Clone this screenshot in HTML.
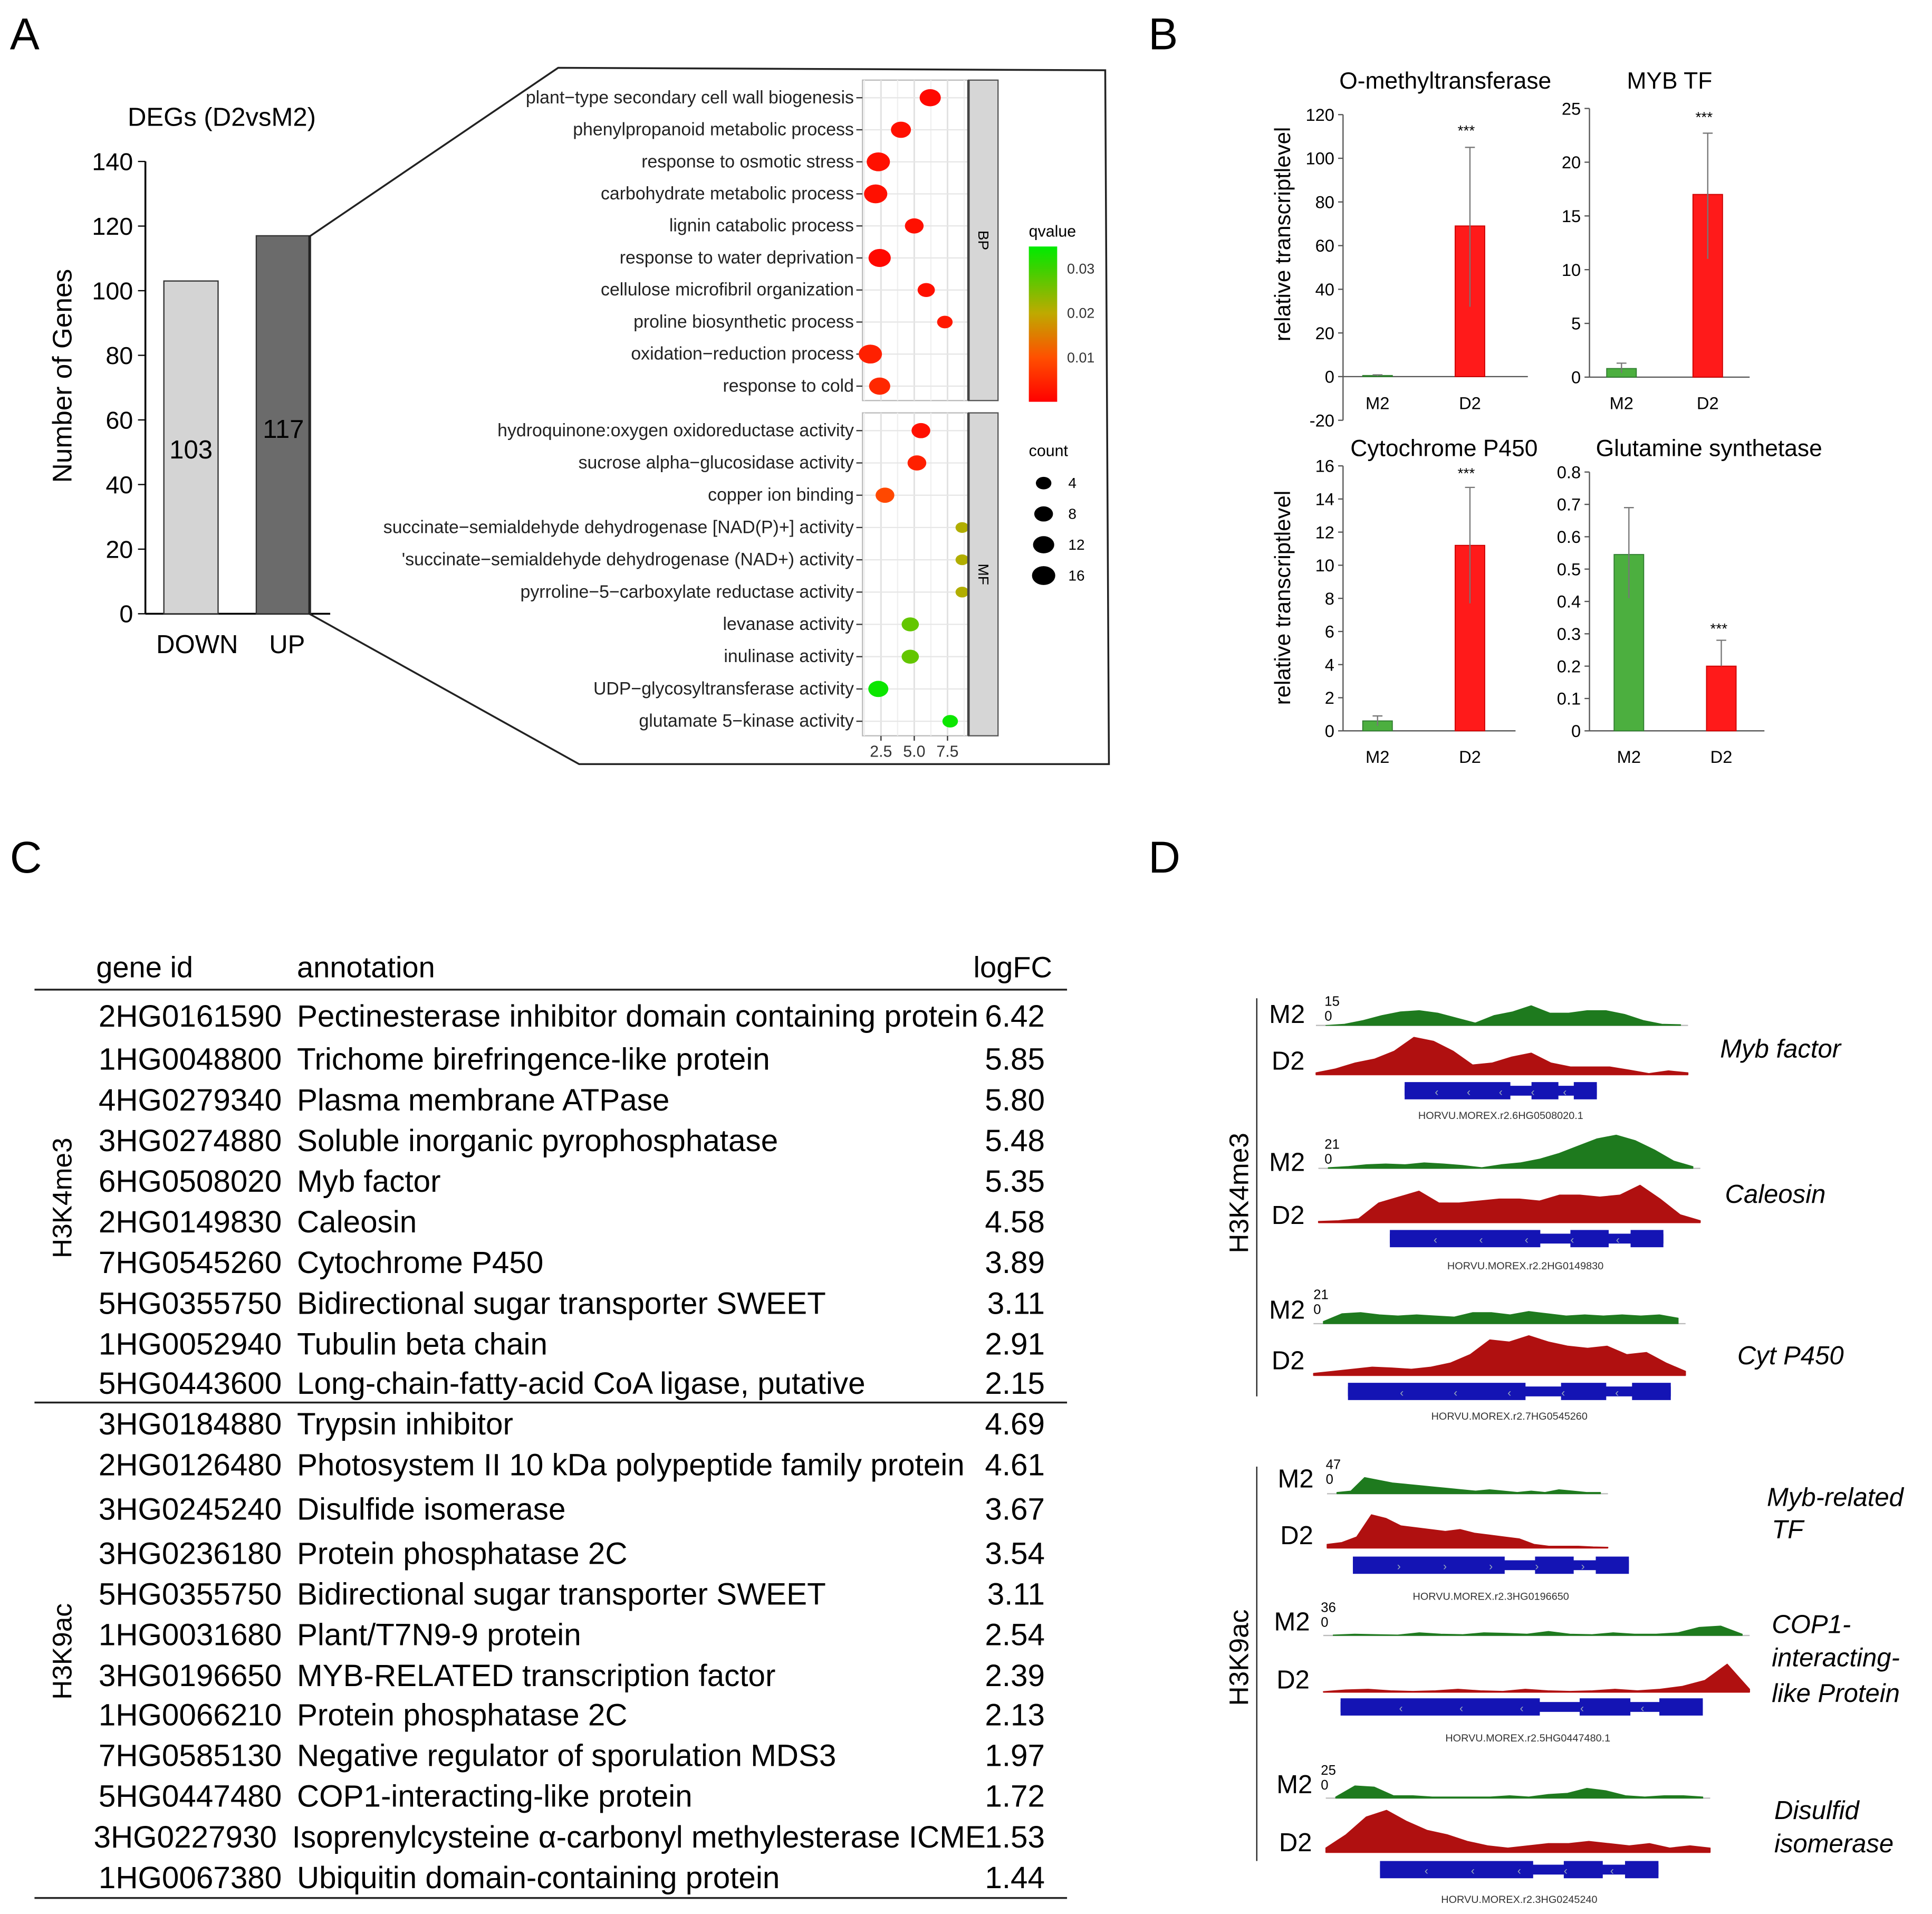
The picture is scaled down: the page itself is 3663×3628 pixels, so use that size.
<!DOCTYPE html>
<html><head><meta charset="utf-8"><style>
html,body{margin:0;padding:0;background:#fff;}
svg{display:block;font-family:"Liberation Sans",Arial,sans-serif;}
</style></head><body>
<svg id="fig" xmlns="http://www.w3.org/2000/svg" width="3663" height="3628" viewBox="0 0 1568 1553">
<rect width="1568" height="1553" fill="#fff"/>
<g font-size="36">
<text x="8" y="40">A</text>
<text x="932" y="40">B</text>
<text x="8" y="708">C</text>
<text x="932" y="708">D</text>
</g>
<g id="pa"></g>
<polygon points="251,192 453,55 897,57 900,620 470,620 251,498" fill="none" stroke="#222" stroke-width="1.5"/>
<g id="dot"></g>
<g id="pb"></g>
<g id="pc"></g>
<g id="pd"></g>
</svg>
<script>
// ---------- Panel A data ----------
const degCats = ["DOWN","UP"];
const degVals = [103,117];
const degTicks = [0,20,40,60,80,100,120,140];
// ---------- Dot plot data ----------
const bpTerms = ["plant−type secondary cell wall biogenesis","phenylpropanoid metabolic process","response to osmotic stress","carbohydrate metabolic process","lignin catabolic process","response to water deprivation","cellulose microfibril organization","proline biosynthetic process","oxidation−reduction process","response to cold"];
const bpX = [6.2,4.0,2.3,2.1,5.0,2.4,5.9,7.3,1.7,2.4];
const bpCount = [12,10,16,16,8,14,6,4,16,12];
const bpQ = [0.001,0.002,0.002,0.002,0.002,0.001,0.002,0.003,0.004,0.005];
const mfTerms = ["hydroquinone:oxygen oxidoreductase activity","sucrose alpha−glucosidase activity","copper ion binding","succinate−semialdehyde dehydrogenase [NAD(P)+] activity","'succinate−semialdehyde dehydrogenase (NAD+) activity","pyrroline−5−carboxylate reductase activity","levanase activity","inulinase activity","UDP−glycosyltransferase activity","glutamate 5−kinase activity"];
const mfX = [5.5,5.2,2.8,8.6,8.6,8.6,4.7,4.7,2.3,7.7];
const mfCount = [8,8,8,2,2,2,6,6,10,4];
const mfQ = [0.002,0.004,0.009,0.021,0.021,0.021,0.027,0.027,0.034,0.034];
const dotXTicks = [2.5,5.0,7.5];
const qTicks = [0.01,0.02,0.03];
const countLegend = [4,8,12,16];
// ---------- Panel B data ----------
const qTitles = ["O-methyltransferase","MYB TF","Cytochrome P450","Glutamine synthetase"];
const qGroups = ["M2","D2"];
const qMeans = [[0.5,69],[0.8,17],[0.6,11.2],[0.545,0.2]];
const qErrHi = [[0.8,105],[1.3,22.7],[0.9,14.7],[0.69,0.28]];
const qErrLo = [[0.3,32],[0.4,11],[0.3,7.7],[0.41,0.2]];
const qTickSets = [[-20,0,20,40,60,80,100,120],[0,5,10,15,20,25],[0,2,4,6,8,10,12,14,16],[0,0.1,0.2,0.3,0.4,0.5,0.6,0.7,0.8]];
const qRanges = [[-20,120],[0,25],[0,16],[0,0.8]];
// ---------- Panel C data ----------
const k4Ids = ["2HG0161590","1HG0048800","4HG0279340","3HG0274880","6HG0508020","2HG0149830","7HG0545260","5HG0355750","1HG0052940","5HG0443600"];
const k4Ann = ["Pectinesterase inhibitor domain containing protein","Trichome birefringence-like protein","Plasma membrane ATPase","Soluble inorganic pyrophosphatase","Myb factor","Caleosin","Cytochrome P450","Bidirectional sugar transporter SWEET","Tubulin beta chain","Long-chain-fatty-acid CoA ligase, putative"];
const k4FC = ["6.42","5.85","5.80","5.48","5.35","4.58","3.89","3.11","2.91","2.15"];
const k9Ids = ["3HG0184880","2HG0126480","3HG0245240","3HG0236180","5HG0355750","1HG0031680","3HG0196650","1HG0066210","7HG0585130","5HG0447480","3HG0227930","1HG0067380"];
const k9Ann = ["Trypsin inhibitor","Photosystem II 10 kDa polypeptide family protein","Disulfide isomerase","Protein phosphatase 2C","Bidirectional sugar transporter SWEET","Plant/T7N9-9 protein","MYB-RELATED transcription factor","Protein phosphatase 2C","Negative regulator of sporulation MDS3","COP1-interacting-like protein","Isoprenylcysteine α-carbonyl methylesterase ICME","Ubiquitin domain-containing protein"];
const k9FC = ["4.69","4.61","3.67","3.54","3.11","2.54","2.39","2.13","1.97","1.72","1.53","1.44"];
// ---------- Panel D data ----------
const trackNames = ["Myb factor","Caleosin","Cyt P450","Myb-related TF","COP1-interacting-like Protein","Disulfid isomerase"];
const trackMax = ["15","21","21","47","36","25"];
const geneIds = ["HORVU.MOREX.r2.6HG0508020.1","HORVU.MOREX.r2.2HG0149830","HORVU.MOREX.r2.7HG0545260","HORVU.MOREX.r2.3HG0196650","HORVU.MOREX.r2.5HG0447480.1","HORVU.MOREX.r2.3HG0245240"];
const m2Cov = [
[0,0.05,0.2,0.4,0.55,0.6,0.5,0.3,0.1,0.4,0.55,0.8,0.5,0.5,0.6,0.6,0.45,0.2,0.05,0.03],
[0.02,0.05,0.1,0.12,0.1,0.15,0.12,0.08,0.02,0.1,0.15,0.25,0.4,0.6,0.8,0.9,0.75,0.5,0.2,0.05],
[0.1,0.45,0.5,0.4,0.35,0.4,0.35,0.3,0.5,0.5,0.4,0.55,0.45,0.35,0.4,0.35,0.4,0.35,0.4,0.25],
[0.05,0.1,0.6,0.5,0.4,0.35,0.3,0.25,0.2,0.15,0.1,0.15,0.1,0.05,0.1,0.05,0.15,0.1,0.05,0.05],
[0.02,0.05,0.03,0.02,0.1,0.05,0.03,0.1,0.08,0.05,0.15,0.05,0.03,0.1,0.05,0.05,0.1,0.3,0.35,0.05],
[0.05,0.5,0.45,0.1,0.1,0.05,0.05,0.05,0.05,0.1,0.05,0.15,0.2,0.4,0.3,0.1,0.05,0.1,0.1,0.05]];
const d2Cov = [
[0.05,0.15,0.3,0.4,0.6,0.95,0.85,0.6,0.25,0.3,0.45,0.55,0.3,0.2,0.2,0.2,0.12,0.03,0.1,0.05],
[0.03,0.05,0.1,0.5,0.65,0.8,0.5,0.5,0.55,0.6,0.6,0.55,0.7,0.7,0.65,0.7,0.95,0.6,0.2,0.05],
[0.05,0.1,0.15,0.2,0.18,0.15,0.2,0.3,0.5,0.85,0.8,0.95,0.8,0.7,0.65,0.7,0.5,0.55,0.3,0.1],
[0.1,0.15,0.3,0.9,0.8,0.6,0.55,0.5,0.45,0.5,0.4,0.35,0.3,0.25,0.1,0.05,0.05,0.05,0.03,0.02],
[0.02,0.08,0.1,0.05,0.03,0.05,0.1,0.05,0.03,0.1,0.05,0.03,0.05,0.1,0.05,0.1,0.2,0.4,0.95,0.1],
[0.1,0.4,0.8,0.95,0.7,0.5,0.4,0.25,0.15,0.1,0.15,0.2,0.2,0.25,0.2,0.15,0.2,0.1,0.15,0.1]];

const NS="http://www.w3.org/2000/svg";
function mk(tag,attrs,parent,txt){const e=document.createElementNS(NS,tag);for(const k in attrs)e.setAttribute(k,attrs[k]);if(txt!==undefined)e.textContent=txt;parent.appendChild(e);return e;}

// ===== Panel A =====
(function(){
const g=document.getElementById('pa');
const y=v=>498-v*(367/140);
let e;
e=mk('text',{x:180,y:102,'font-size':21,'text-anchor':'middle'},g,'DEGs (D2vsM2)');


e=mk('text',{x:0,y:0,'font-size':22,'text-anchor':'middle',transform:'translate(58,305) rotate(-90)'},g,'Number of Genes');


mk('line',{x1:118,y1:y(140),x2:118,y2:498,stroke:'#000','stroke-width':1.5},g);
mk('line',{x1:118,y1:498,x2:268,y2:498,stroke:'#000','stroke-width':1.5},g);
degTicks.forEach(t=>{
 mk('line',{x1:112,y1:y(t),x2:118,y2:y(t),stroke:'#000'},g);
 e=mk('text',{x:108,y:y(t)+7,'font-size':20,'text-anchor':'end'},g,String(t));
 
 
});
const cx=[155,230],fills=['#d4d4d4','#6b6b6b'];
degVals.forEach((v,i)=>{
 e=mk('rect',{x:cx[i]-22,y:y(v),width:44,height:498-y(v),fill:fills[i],stroke:'#333'},g);
 
 
 e=mk('text',{x:cx[i],y:y(v)+(i?164:144),'font-size':21,'text-anchor':'middle'},g,String(v));
 
 
 e=mk('text',{x:cx[i]+(i?3:5),y:530,'font-size':21,'text-anchor':'middle'},g,degCats[i]);
 
 
});
})();

// ===== Dot plot =====
(function(){
const g=document.getElementById('dot');
const xs=v=>715+(v-2.5)*10.8;
const rad=c=>3+Math.sqrt(c)*1.5;
const stops=[[0,[255,0,0]],[0.01,[255,80,0]],[0.02,[190,170,0]],[0.03,[60,210,0]],[0.035,[0,235,0]]];
function qcol(q){for(let i=1;i<stops.length;i++){if(q<=stops[i][0]){const a=stops[i-1],b=stops[i],t=(q-a[0])/(b[0]-a[0]);const c=a[1].map((v,k)=>Math.round(v+(b[1][k]-v)*t));return 'rgb('+c+')';}}return 'rgb(0,235,0)';}
let e;
const panels=[{terms:bpTerms,xv:bpX,cnt:bpCount,q:bpQ,top:65,bot:325,lab:'BP'},{terms:mfTerms,xv:mfX,cnt:mfCount,q:mfQ,top:335,bot:597,lab:'MF'}];
panels.forEach(p=>{
 mk('rect',{x:700,y:p.top,width:86,height:p.bot-p.top,fill:'#fff',stroke:'#bbb'},g);
 [1.25,3.75,6.25,8.75].forEach(v=>mk('line',{x1:xs(v),y1:p.top,x2:xs(v),y2:p.bot,stroke:'#f0f0f0'},g));
 dotXTicks.forEach(v=>mk('line',{x1:xs(v),y1:p.top,x2:xs(v),y2:p.bot,stroke:'#e2e2e2','stroke-width':1.3},g));
 const step=(p.bot-p.top)/10;
 p.terms.forEach((t,i)=>{
  const yy=p.top+step*(i+0.55);
  mk('line',{x1:700,y1:yy,x2:786,y2:yy,stroke:'#e6e6e6'},g);
  mk('line',{x1:695,y1:yy,x2:700,y2:yy,stroke:'#333'},g);
  e=mk('text',{x:693,y:yy+4.5,'font-size':14.5,'text-anchor':'end',fill:'#222'},g,t);
  
  
 });
 p.terms.forEach((t,i)=>{
  const yy=p.top+step*(i+0.55);
  e=mk('ellipse',{cx:xs(p.xv[i]),cy:yy,rx:rad(p.cnt[i])*1.05,ry:rad(p.cnt[i])*0.85,fill:qcol(p.q[i])},g);
  
  
 });
 mk('rect',{x:786,y:p.top,width:24,height:p.bot-p.top,fill:'#d6d6d6',stroke:'#555'},g);
 mk('line',{x1:786,y1:p.top,x2:786,y2:p.bot,stroke:'#444','stroke-width':2},g);
 e=mk('text',{x:0,y:0,'font-size':12,'text-anchor':'middle',transform:'translate(794,'+((p.top+p.bot)/2)+') rotate(90)'},g,p.lab);
 
 
});
dotXTicks.forEach(v=>{
 mk('line',{x1:xs(v),y1:597,x2:xs(v),y2:601,stroke:'#333'},g);
 e=mk('text',{x:xs(v),y:614,'font-size':13,'text-anchor':'middle',fill:'#333'},g,v.toFixed(1));
 
 
});
const defs=mk('defs',{},g);
const lg=mk('linearGradient',{id:'qg',x1:0,y1:1,x2:0,y2:0},defs);
const qy=q=>326-q*3600;
stops.forEach(s=>mk('stop',{offset:Math.min(1,s[0]/0.035),'stop-color':'rgb('+s[1]+')'},lg));
e=mk('text',{x:835,y:192,'font-size':13},g,'qvalue');


e=mk('rect',{x:835,y:200,width:23,height:126,fill:'url(#qg)'},g);


qTicks.forEach(q=>{
 e=mk('text',{x:866,y:qy(q)+4,'font-size':11.5,fill:'#333'},g,q.toFixed(2));
 
 
});
e=mk('text',{x:835,y:370,'font-size':13},g,'count');


countLegend.forEach((c,i)=>{
 const yy=392+i*25;
 e=mk('ellipse',{cx:847,cy:yy,rx:rad(c)*1.05,ry:rad(c)*0.85,fill:'#000'},g);
 
 
 e=mk('text',{x:867,y:yy+4,'font-size':12},g,String(c));
 
 
});
})();

// ===== Panel B =====
(function(){
const g=document.getElementById('pb');
const lay=[{ax:1090,top:93,bot:341,xend:1240,cx:[1118,1193],tx:1173,ty:72,sx:1190,sy:110},
           {ax:1290,top:88,bot:306,xend:1420,cx:[1316,1386],tx:1355,ty:72,sx:1383,sy:99},
           {ax:1090,top:378,bot:593,xend:1230,cx:[1118,1193],tx:1172,ty:370,sx:1190,sy:388},
           {ax:1290,top:383,bot:593,xend:1432,cx:[1322,1397],tx:1387,ty:370,sx:1395,sy:514}];
let e;
lay.forEach((L,k)=>{
 const [lo,hi]=qRanges[k];
 const y=v=>L.bot-(v-lo)*(L.bot-L.top)/(hi-lo);
 e=mk('text',{x:L.tx,y:L.ty,'font-size':19,'text-anchor':'middle'},g,qTitles[k]);
 
 
 mk('line',{x1:L.ax,y1:L.top,x2:L.ax,y2:L.bot,stroke:'#555'},g);
 mk('line',{x1:L.ax,y1:y(0),x2:L.xend,y2:y(0),stroke:'#555'},g);
 qTickSets[k].forEach(t=>{
  mk('line',{x1:L.ax-4,y1:y(t),x2:L.ax,y2:y(t),stroke:'#555'},g);
  e=mk('text',{x:L.ax-7,y:y(t)+5,'font-size':14,'text-anchor':'end'},g,String(t));
  
  
 });
 qGroups.forEach((gr,i)=>{
  const m=qMeans[k][i],hiE=qErrHi[k][i],loE=qErrLo[k][i],cx=L.cx[i];
  const col=i==0?'#4caf3f':'#ff1a1a';
  e=mk('rect',{x:cx-12,y:Math.min(y(m),y(0)),width:24,height:Math.abs(y(0)-y(m)),fill:col,stroke:i==0?'#2e7d2e':'#c00','stroke-width':0.8},g);
  
  
  mk('line',{x1:cx,y1:y(hiE),x2:cx,y2:y(loE),stroke:'#777','stroke-width':1},g);
  mk('line',{x1:cx-4,y1:y(hiE),x2:cx+4,y2:y(hiE),stroke:'#777','stroke-width':1},g);
  e=mk('text',{x:cx,y:y(0)+26,'font-size':14,'text-anchor':'middle'},g,gr);
  if(k==0) e.setAttribute('y',332);
  
  
 });
 e=mk('text',{x:L.sx,y:L.sy,'font-size':12,'text-anchor':'middle'},g,'***');
 
 
});
[190,485].forEach(cy=>{
 e=mk('text',{x:0,y:0,'font-size':18,'text-anchor':'middle',transform:'translate(1047,'+cy+') rotate(-90)'},g,'relative transcriptlevel');
 
 
});
})();

// ===== Panel C =====
(function(){
const g=document.getElementById('pc');
let e;
[['gene id',78],['annotation',241],['logFC',790]].forEach(h=>{
 e=mk('text',{x:h[1],y:793,'font-size':24},g,h[0]);
 
 
});
[803,1138,1540].forEach(yy=>mk('line',{x1:28,y1:yy,x2:866,y2:yy,stroke:'#222','stroke-width':1.5},g));
const k4Y=[825,860,893,926,959,992,1025,1058,1091,1123];
const k9Y=[1156,1189,1225,1261,1294,1327,1360,1392,1425,1458,1491,1524];
function rows(ids,ann,fc,ys){
 ids.forEach((id,i)=>{
  const yy=ys[i]+8;
  const icme = ann[i].indexOf('ICME')>=0;
  e=mk('text',{x:icme?76:80,y:yy,'font-size':25},g,id);
  
  
  e=mk('text',{x:icme?237:241,y:yy,'font-size':25},g,ann[i]);
  if(icme) e.setAttribute('textLength','563');
  
  
  e=mk('text',{x:848,y:yy,'font-size':25,'text-anchor':'end'},g,fc[i]);
  
  
 });
}
rows(k4Ids,k4Ann,k4FC,k4Y);
rows(k9Ids,k9Ann,k9FC,k9Y);
[['H3K4me3',972],['H3K9ac',1340]].forEach(h=>{
 e=mk('text',{x:0,y:0,'font-size':22,'text-anchor':'middle',transform:'translate(58,'+h[1]+') rotate(-90)'},g,h[0]);
 
 
});
})();

// ===== Panel D =====
(function(){
const g=document.getElementById('pd');
let e;
const T=[
 {lx:1030,x0:1068,x1:1370,m2b:832,m2y:830,d2b:872,d2y:868,gy:878,gx0:1140,gx1:1296,ny:908,nx:1218,num:[1075,816],h1:20,h2:32,lab:[[1396,858]]},
 {lx:1030,x0:1070,x1:1380,m2b:948,m2y:950,d2b:992,d2y:993,gy:998,gx0:1128,gx1:1350,ny:1030,nx:1238,num:[1075,932],h1:30,h2:32,lab:[[1400,976]]},
 {lx:1030,x0:1066,x1:1368,m2b:1074,m2y:1070,d2b:1116,d2y:1111,gy:1122,gx0:1094,gx1:1356,ny:1152,nx:1225,num:[1066,1054],h1:18,h2:34,lab:[[1410,1107]]},
 {lx:1037,x0:1077,x1:1305,m2b:1212,m2y:1207,d2b:1256,d2y:1253,gy:1263,gx0:1098,gx1:1322,ny:1298,nx:1210,num:[1076,1192],h1:22,h2:30,lab:[[1434,1222],[1438,1248]]},
 {lx:1034,x0:1074,x1:1420,m2b:1327,m2y:1323,d2b:1373,d2y:1370,gy:1378,gx0:1088,gx1:1382,ny:1413,nx:1240,num:[1072,1308],h1:22,h2:24,lab:[[1438,1325],[1438,1352],[1438,1381]]},
 {lx:1036,x0:1076,x1:1388,m2b:1459,m2y:1455,d2b:1503,d2y:1502,gy:1510,gx0:1120,gx1:1346,ny:1544,nx:1233,num:[1072,1440],h1:20,h2:36,lab:[[1440,1476],[1440,1503]]}];
const labelLines=[["Myb factor"],["Caleosin"],["Cyt P450"],["Myb-related","TF"],["COP1-","interacting-","like Protein"],["Disulfid","isomerase"]];
function area(vals,x0,x1,base,h,col,name){
 const n=vals.length,st=(x1-x0)/(n-1);
 let d='M'+x0+','+base;
 vals.forEach((v,i)=>{d+=' L'+(x0+i*st).toFixed(1)+','+(base-v*h).toFixed(1);});
 d+=' L'+x1+','+base+' Z';
 const p=mk('path',{d:d,fill:col,stroke:col,'stroke-width':0.6,'stroke-linejoin':'round'},g);
 
 
}
T.forEach((t,i)=>{
 e=mk('text',{x:t.lx,y:t.m2y,'font-size':21},g,'M2');
 
 
 e=mk('text',{x:t.lx+2,y:t.d2y,'font-size':21},g,'D2');
 
 
 e=mk('text',{x:t.num[0],y:t.num[1],'font-size':11},g,trackMax[i]);
 
 
 e=mk('text',{x:t.num[0],y:t.num[1]+12,'font-size':11},g,'0');
 
 
 mk('line',{x1:t.x0,y1:t.m2b,x2:t.x1,y2:t.m2b,stroke:'#bbb','stroke-width':1},g);
 mk('line',{x1:t.x0,y1:t.d2b,x2:t.x1,y2:t.d2b,stroke:'#e04040','stroke-width':1},g);
 area(m2Cov[i],t.x0+8,t.x1-6,t.m2b,t.h1,'#1e7a1e','m2-coverage-track');
 area(d2Cov[i],t.x0,t.x1,t.d2b,t.h2,'#b01010','d2-coverage-track');
 mk('rect',{x:t.gx0,y:t.gy+3,width:t.gx1-t.gx0,height:8,fill:'#1414b4'},g);
 const w=t.gx1-t.gx0;
 [[0,0.55],[0.66,0.8],[0.88,1]].forEach(s=>{
  e=mk('rect',{x:t.gx0+s[0]*w,y:t.gy,width:(s[1]-s[0])*w,height:14,fill:'#1414b4'},g);
  
  
 });
 for(let k=1;k<6;k++) mk('text',{x:t.gx0+k*w/6,y:t.gy+11,'font-size':9,fill:'#9ab','text-anchor':'middle'},g,i==3?'›':'‹');
 e=mk('text',{x:t.nx,y:t.ny,'font-size':8.5,'text-anchor':'middle',fill:'#333'},g,geneIds[i]);
 
 
 labelLines[i].forEach((ln,j)=>{
  e=mk('text',{x:t.lab[j][0],y:t.lab[j][1],'font-size':21,'font-style':'italic'},g,ln);
  
  
 });
});
mk('line',{x1:1020,y1:810,x2:1020,y2:1133,stroke:'#222'},g);
mk('line',{x1:1020,y1:1190,x2:1020,y2:1510,stroke:'#222'},g);
[['H3K4me3',968],['H3K9ac',1345]].forEach(h=>{
 e=mk('text',{x:0,y:0,'font-size':22,'text-anchor':'middle',transform:'translate(1013,'+h[1]+') rotate(-90)'},g,h[0]);
 
 
});
})();
</script>
</body></html>
